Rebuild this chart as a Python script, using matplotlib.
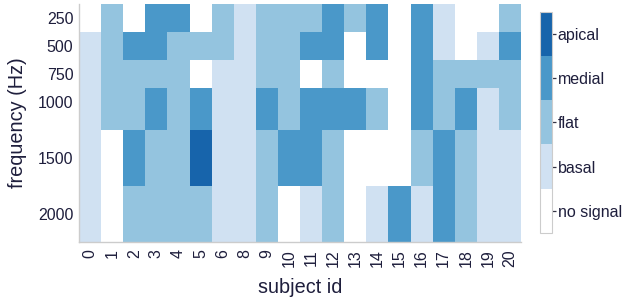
import numpy as np
import matplotlib
matplotlib.use("Agg")
import matplotlib.pyplot as plt
from matplotlib.colors import ListedColormap, BoundaryNorm

plt.rcParams['font.family'] = ['Liberation Sans', 'DejaVu Sans']

subjects = [0, 1, 2, 3, 4, 5, 6, 8, 9, 10, 11, 12, 13, 14, 15, 16, 17, 18, 19, 20]
frequencies = [250, 500, 750, 1000, 1500, 2000]
levels = ['no signal', 'basal', 'flat', 'medial', 'apical']

# one list per subject, values per frequency (0 = no signal ... 4 = apical)
s0 = [0, 1, 1, 1, 1, 1]
s1 = [2, 2, 2, 2, 0, 0]
s2 = [0, 3, 2, 2, 3, 2]
s3 = [3, 3, 2, 3, 2, 2]
s4 = [3, 2, 2, 2, 2, 2]
s5 = [0, 2, 0, 3, 4, 2]
s6 = [2, 2, 1, 1, 1, 1]
s8 = [1, 1, 1, 1, 1, 1]
s9 = [2, 2, 2, 3, 2, 2]
s10 = [2, 2, 2, 2, 3, 0]
s11 = [2, 3, 0, 3, 3, 1]
s12 = [3, 3, 2, 3, 2, 2]
s13 = [2, 0, 0, 3, 0, 0]
s14 = [3, 3, 0, 2, 0, 1]
s15 = [0, 0, 0, 0, 0, 3]
s16 = [3, 3, 3, 3, 2, 1]
s17 = [1, 1, 2, 2, 3, 3]
s18 = [0, 0, 2, 3, 2, 2]
s19 = [0, 1, 2, 1, 1, 1]
s20 = [2, 3, 2, 2, 1, 1]

grid = np.array([s0, s1, s2, s3, s4, s5, s6, s8, s9, s10, s11, s12, s13,
                 s14, s15, s16, s17, s18, s19, s20]).T

text_color = '#1e1e3c'
colors = ['#ffffff', '#d0e1f2', '#94c4df', '#4a98c9', '#1764ab']
cmap = ListedColormap(colors)
norm = BoundaryNorm(np.arange(-0.5, len(levels) + 0.5), cmap.N)

# cell edges: columns are categorical, rows follow the frequency values
f = np.array(frequencies, dtype=float)
mid = (f[:-1] + f[1:]) / 2
y_edges = np.concatenate([[f[0] - (mid[0] - f[0])], mid, [f[-1] + (f[-1] - mid[-1])]])
x_edges = np.arange(len(subjects) + 1) - 0.5

fig = plt.figure(figsize=(6.24, 3.04), dpi=100)
ax = fig.add_axes([0.1266, 0.204, 0.7084, 0.783])
mesh = ax.pcolormesh(x_edges, y_edges, grid, cmap=cmap, norm=norm,
                     edgecolors='face', linewidth=0.6)
ax.set_xlim(x_edges[0], x_edges[-1])
ax.set_ylim(y_edges[-1], y_edges[0])

ax.set_xticks(np.arange(len(subjects)))
ax.set_xticklabels([str(s) for s in subjects], rotation=90)
ax.set_yticks(frequencies)
ax.set_yticklabels([str(v) for v in frequencies])
ax.tick_params(length=0, labelsize=11.5, labelcolor=text_color)
ax.tick_params(axis='y', pad=4)
ax.tick_params(axis='x', pad=5)
ax.set_xlabel('subject id', fontsize=14.3, color=text_color, labelpad=8)
ax.set_ylabel('frequency (Hz)', fontsize=14.3, color=text_color, labelpad=8)
for side in ['top', 'right']:
    ax.spines[side].set_visible(False)
for side in ['left', 'bottom']:
    ax.spines[side].set_color('#cccccc')
    ax.spines[side].set_linewidth(1.0)

cax = fig.add_axes([0.866, 0.234, 0.019, 0.727])
cb = fig.colorbar(mesh, cax=cax)
cb.minorticks_off()
cb.set_ticks(np.arange(len(levels)))
cb.set_ticklabels(levels)
cb.outline.set_edgecolor('#cccccc')
cb.outline.set_linewidth(0.8)
cax.yaxis.set_tick_params(which='major', right=True, direction='out',
                          length=3, width=0.9, color='#333344', labelsize=11.5,
                          labelcolor=text_color, pad=1)

fig.savefig('out.png', dpi=100)
